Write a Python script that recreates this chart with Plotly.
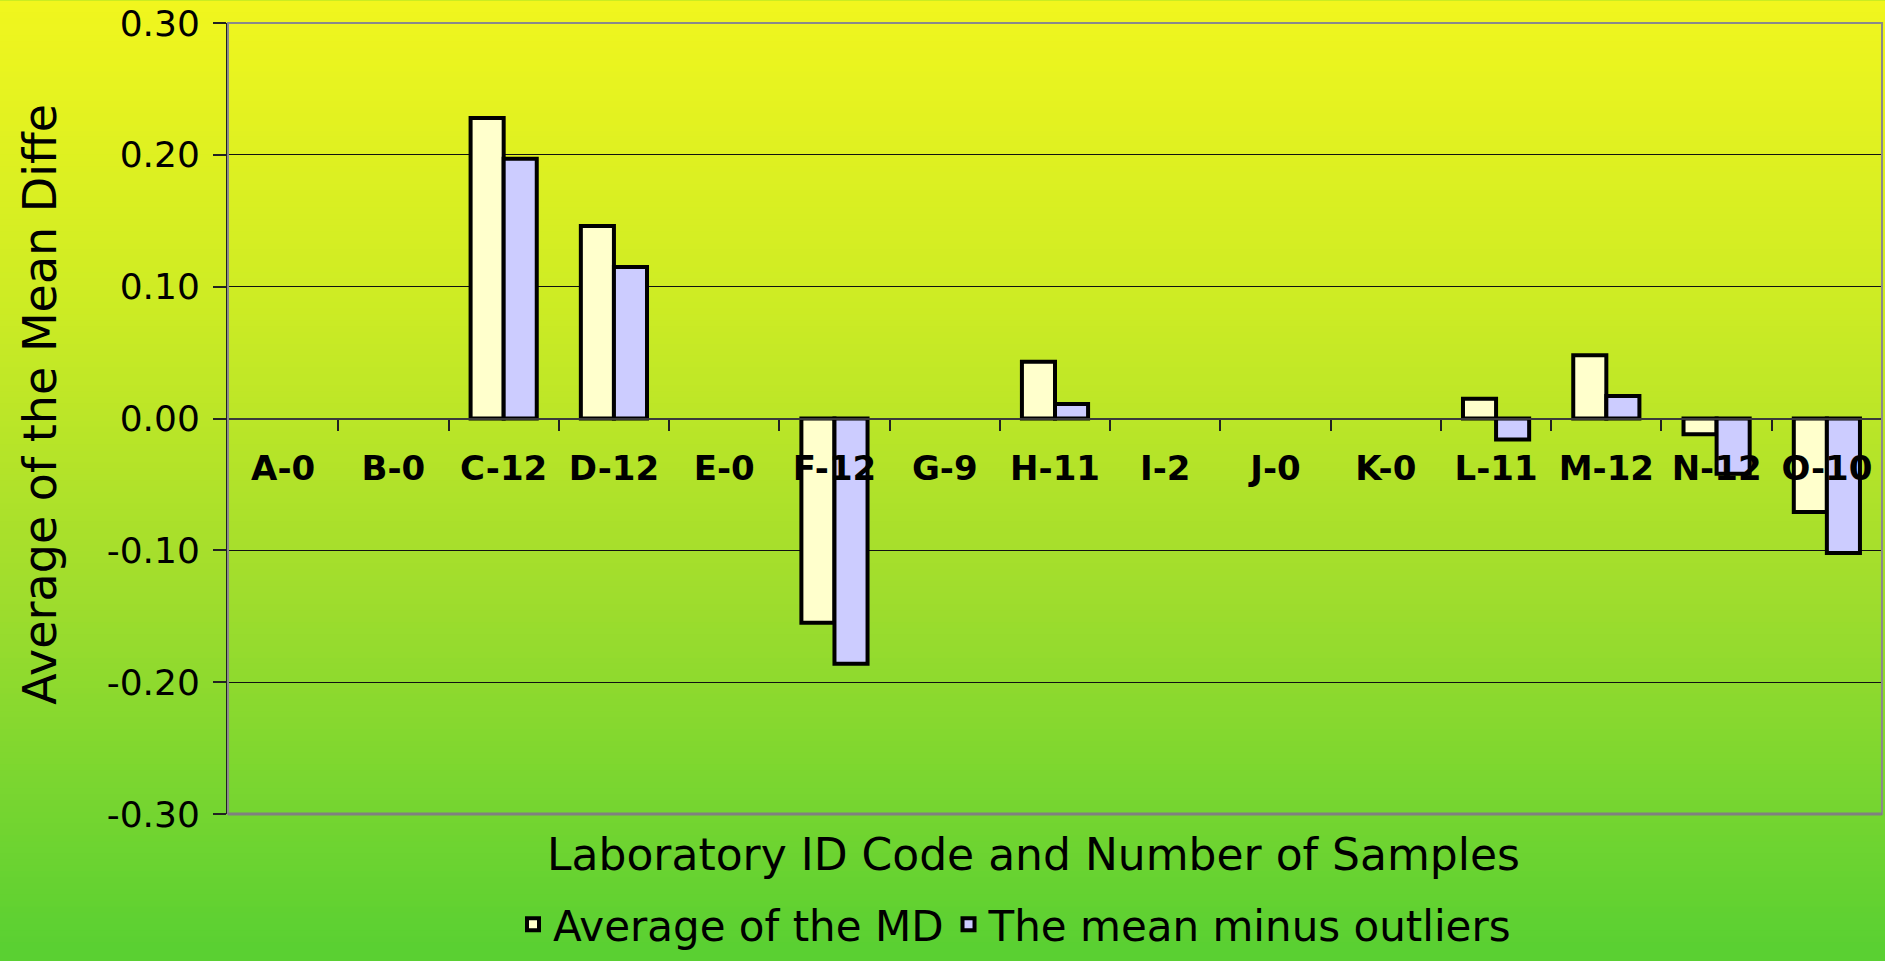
import plotly.graph_objects as go

# ---------------- data ----------------
categories = ["A-0", "B-0", "C-12", "D-12", "E-0", "F-12", "G-9", "H-11",
              "I-2", "J-0", "K-0", "L-11", "M-12", "N-12", "O-10"]
avg_md = [None, None, 0.228, 0.146, None, -0.155, None, 0.043,
          None, None, None, 0.015, 0.048, -0.012, -0.071]
mean_minus_outliers = [None, None, 0.197, 0.115, None, -0.186, None, 0.011,
                       None, None, None, -0.016, 0.017, -0.042, -0.102]
series_names = ["Average of the MD", "The mean minus outliers"]
y_tick_vals = [-0.3, -0.2, -0.1, 0.0, 0.1, 0.2, 0.3]
y_tick_labels = ["-0.30", "-0.20", "-0.10", "0.00", "0.10", "0.20", "0.30"]
x_title = "Laboratory ID Code and Number of Samples"
y_title = "Average of the Mean Difference"

# ---------------- layout geometry ----------------
W, H = 1885, 961
ML, MR, MT, MB = 228, 3, 23, 136
PW, PH = W - ML - MR, H - MT - MB

def px_to_paper_y(py):
    return (H - MB - py) / PH

def px_to_paper_x(px):
    return (px - ML) / PW

FONT = "DejaVu Sans"

fig = go.Figure()
fig.add_trace(go.Bar(x=categories, y=avg_md, name=series_names[0],
                     marker=dict(color="#FFFFCC", line=dict(color="black", width=4))))
fig.add_trace(go.Bar(x=categories, y=mean_minus_outliers, name=series_names[1],
                     marker=dict(color="#CCCCFF", line=dict(color="black", width=4))))

# background gradient (yellow top -> green bottom)
stops = [(0, (241, 246, 30)), (300, (206, 236, 36)), (600, (160, 221, 45)), (961, (90, 208, 50))]

def color_at(py):
    for (a, ca), (b, cb) in zip(stops[:-1], stops[1:]):
        if a <= py <= b:
            t = (py - a) / (b - a)
            return "rgb(%d,%d,%d)" % tuple(round(ca[i] + (cb[i] - ca[i]) * t) for i in range(3))
    return "rgb(%d,%d,%d)" % stops[-1][1]

shapes = []
n = 160
step = H / n
for i in range(n):
    y0 = i * step
    y1 = (i + 1) * step + 1
    shapes.append(dict(type="rect", xref="paper", yref="paper",
                       x0=px_to_paper_x(-5), x1=px_to_paper_x(W + 5),
                       y0=px_to_paper_y(y1), y1=px_to_paper_y(y0),
                       fillcolor=color_at((y0 + y1) / 2), line=dict(width=0),
                       layer="below"))
# plot frame
shapes.append(dict(type="rect", xref="paper", yref="paper", x0=0, x1=1, y0=0, y1=1,
                   line=dict(color="#8a8a8a", width=2), layer="above"))
shapes.append(dict(type="line", xref="paper", yref="paper", x0=0, x1=1, y0=0, y1=0,
                   line=dict(color="#808080", width=3), layer="above"))

fig.update_layout(
    width=W, height=H,
    margin=dict(l=ML, r=MR, t=MT, b=MB),
    paper_bgcolor="rgb(90,208,50)",
    plot_bgcolor="rgba(0,0,0,0)",
    barmode="group", bargap=0.4, bargroupgap=0,
    shapes=shapes,
    font=dict(family=FONT, color="black"),
    xaxis=dict(type="category", range=[-0.5, len(categories) - 0.5],
               anchor="free", position=0.5,
               showline=True, linecolor="#3a3a3a", linewidth=2,
               ticks="outside", ticklen=11, tickwidth=1.5, tickcolor="#222",
               tickson="boundaries", showgrid=False,
               tickfont=dict(family=FONT, size=34, color="black", weight="bold"),
               ticklabelstandoff=20),
    yaxis=dict(range=[-0.3, 0.3], tickvals=y_tick_vals, ticktext=y_tick_labels,
               showgrid=True, gridcolor="#111", gridwidth=1,
               zeroline=True, zerolinecolor="#3a3a3a", zerolinewidth=2,
               showline=True, linecolor="#222", linewidth=2,
               ticks="outside", ticklen=13, tickcolor="#222", tickwidth=1.5,
               tickfont=dict(family=FONT, size=36, color="black"),
               ticklabelstandoff=6),
    legend=dict(orientation="h", x=px_to_paper_x(1015), xanchor="center",
                y=px_to_paper_y(937), yanchor="middle",
                font=dict(family=FONT, size=42, color="black"),
                bgcolor="rgba(0,0,0,0)", traceorder="normal"),
    showlegend=True,
)

fig.add_annotation(text=x_title, xref="paper", yref="paper",
                   x=px_to_paper_x(1033), y=px_to_paper_y(866),
                   xanchor="center", yanchor="middle", showarrow=False,
                   font=dict(family=FONT, size=44, color="black"))
fig.add_annotation(text=y_title, xref="paper", yref="paper",
                   x=px_to_paper_x(40), y=px_to_paper_y(410),
                   xanchor="center", yanchor="middle", showarrow=False,
                   textangle=-90, width=600, height=58, align="left",
                   font=dict(family=FONT, size=46, color="black"))

fig.write_html("out.html",
               config={"displayModeBar": False},
               post_script="document.body.style.margin='0';"
                           "document.documentElement.style.overflow='hidden';")
